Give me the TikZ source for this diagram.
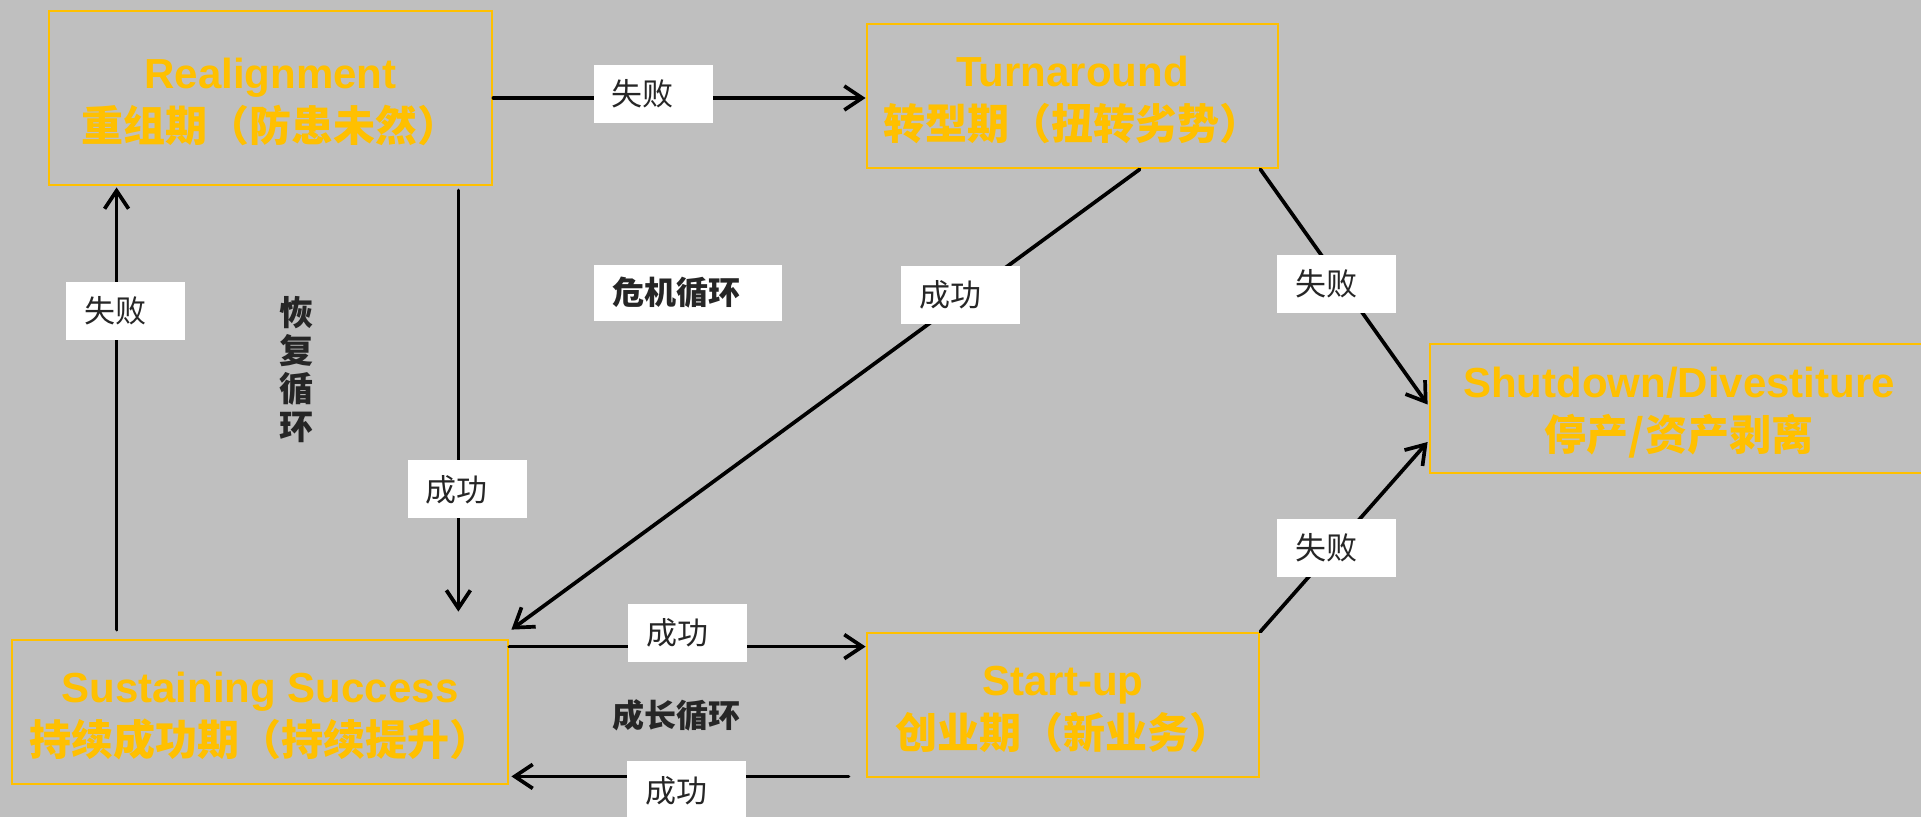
\documentclass[tikz,border=0pt]{standalone}
\usepackage{fontspec}
\setmainfont{Liberation Sans}
\newfontfamily\cjk{Noto Sans CJK SC}
\usetikzlibrary{arrows.meta,calc}
\definecolor{bg}{HTML}{BFBFBF}
\definecolor{gold}{HTML}{FFC000}
\definecolor{ink}{HTML}{262626}
\newcommand{\toppad}{\rule{0pt}{39pt}}
\tikzset{
  stage/.style={draw=gold, line width=2.8pt, text=gold, align=center, inner sep=0pt,
    font=\fontsize{42}{53}\selectfont\bfseries},
  tag/.style={fill=white, text=ink, inner xsep=18pt, inner ysep=0pt, text width=83pt,
    align=left, minimum height=58pt, font=\fontsize{31}{34}\selectfont\cjk},
  arr/.style={line width=3.7pt, line cap=round, -{Straight Barb[length=18pt,width=24pt,line width=3.7pt]}},
  cyc/.style={text=ink, font=\fontsize{32}{36}\selectfont\cjk\bfseries, inner sep=0pt}
}
\begin{document}
\begin{tikzpicture}[x=1pt,y=-1pt]
\fill[bg] (0,0) rectangle (1921,817);
\useasboundingbox (0,0) rectangle (1921,817);

\node[stage, minimum width=443pt, minimum height=174pt] (R) at (270.5,98) {\toppad Realignment\\\cjk 重组期（防患未然）};
\node[stage, minimum width=411pt, minimum height=144pt] (T) at (1072.5,96) {\toppad Turnaround\\\cjk 转型期（扭转劣势）};
\node[stage, minimum width=498pt, minimum height=129pt] (D) at (1679,408.5) {\toppad Shutdown/Divestiture\\\cjk 停产/资产剥离};
\node[stage, minimum width=496pt, minimum height=144pt] (SS) at (260,712) {\toppad Sustaining Success\\\cjk 持续成功期（持续提升）};
\node[stage, minimum width=392pt, minimum height=144pt] (SU) at (1063,705) {\toppad Start-up\\\cjk 创业期（新业务）};

% connector end points
\coordinate (r1) at ($(R.south east)+(-35,4)$);
\coordinate (ss1) at ($(SS.north east)+(-51,-27)$);
\coordinate (ss2) at ($(SS.north west)+(106,-9)$);
\coordinate (r2) at ($(R.south west)+(69,1)$);
\coordinate (t1) at ($(T.south west)+(274,0)$);
\coordinate (ss3) at ($(SS.north east)+(2,-9)$);
\coordinate (t2) at ($(T.south east)+(-19,0)$);
\coordinate (d1) at ($(D.west)+(-1,-4)$);
\coordinate (d2) at ($(D.west)+(-1,33.5)$);
\coordinate (ss4) at ($(SS.north east)+(0,8)$);
\coordinate (su1) at ($(SU.south west)+(-17,-2)$);
\coordinate (ss5) at ($(SS.south east)+(2,-9)$);

\draw[arr] (R.east) -- (R.east -| T.west) node[tag, pos=0.43, yshift=4pt] (l1) {失败};
\draw[arr] (r1) -- (ss1) node[tag, pos=0.71, xshift=9pt] (l2) {成功};
\draw[arr] (ss2) -- (r2) node[tag, pos=0.72, xshift=9pt] (l3) {失败};
\draw[arr] (t1) -- (ss3) node[tag, pos=0.285, yshift=6pt] (l4) {成功};
\draw[arr] (t2) -- (d1) node[tag, pos=0.456, yshift=-7pt] (l5) {失败};
\draw[arr] (SU.north east) -- (d2) node[tag, pos=0.456, yshift=-3pt] (l6) {失败};
\draw[arr] (ss4) -- (ss4 -| SU.west) node[tag, pos=0.5, yshift=14pt] (l7) {成功};
\draw[arr] (su1) -- (ss5) node[tag, pos=0.48, yshift=-14pt] (l8) {成功};

\node[tag, font=\fontsize{32}{36}\selectfont\cjk\bfseries, text width=152pt, minimum height=56pt] (crisis) at (688,293) {危机循环};
\node[cyc, align=center, font=\fontsize{34}{38}\selectfont\cjk\bfseries] (recov) at (296,370) {恢\\复\\循\\环};
\node[cyc] (grow) at (676,715) {成长循环};
\end{tikzpicture}
\end{document}
